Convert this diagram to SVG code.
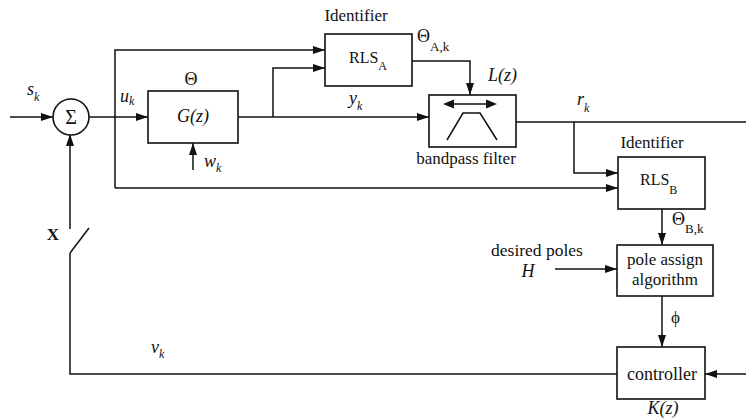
<svg xmlns="http://www.w3.org/2000/svg" width="746" height="419" viewBox="0 0 746 419" font-family="Liberation Serif">
<defs>
<marker id="arr" viewBox="0 0 12 8" refX="12" refY="4" markerWidth="12" markerHeight="8" markerUnits="userSpaceOnUse" orient="auto">
<path d="M0,0 L12,4 L0,8 Z" fill="#111"/>
</marker>
</defs>
<style>
.box{fill:#fff;stroke:#111;stroke-width:1.6}
.ln{fill:none;stroke:#111;stroke-width:1.5}
text{fill:#111;font-family:"Liberation Serif",serif}
.t{font-size:17px}
.v{font-size:18px;font-style:italic}
.c{text-anchor:middle}
.sub{font-size:12px}
</style>
<rect width="746" height="419" fill="#fff"/>
<g id="connectors">
<path class="ln" d="M10 117 H53" marker-end="url(#arr)"/>
<path class="ln" d="M89 117 H148" marker-end="url(#arr)"/>
<path class="ln" d="M115 188 V50 H325" marker-end="url(#arr)"/>
<path class="ln" d="M115 188 H618" marker-end="url(#arr)"/>
<path class="ln" d="M238 117 H429" marker-end="url(#arr)"/>
<path class="ln" d="M273 117 V68 H325" marker-end="url(#arr)"/>
<path class="ln" d="M412 61 H470 V95" marker-end="url(#arr)"/>
<path class="ln" d="M516 122 H746"/>
<path class="ln" d="M574 122 V173 H618" marker-end="url(#arr)"/>
<path class="ln" d="M662 209 V245" marker-end="url(#arr)"/>
<path class="ln" d="M555 269 H617" marker-end="url(#arr)"/>
<path class="ln" d="M662 296 V347" marker-end="url(#arr)"/>
<path class="ln" d="M746 374 H705" marker-end="url(#arr)"/>
<path class="ln" d="M617 374 H70 V253"/>
<path class="ln" d="M70 253 L89 228"/>
<path class="ln" d="M70 229 V134" marker-end="url(#arr)"/>
<path class="ln" d="M193 170 V143" marker-end="url(#arr)"/>
</g>
<g id="sum">
<circle cx="71" cy="117" r="18" fill="#fff" stroke="#111" stroke-width="1.6"/>
<text x="71" y="123.500" class="c" font-size="20">Σ</text>
<text x="27" y="95" class="v">s<tspan class="sub" dy="6">k</tspan></text>
</g>
<g id="plant">
<rect class="box" x="148" y="91" width="90" height="52"/>
<text x="193" y="122" class="v c" font-size="19">G(z)</text>
<text x="191" y="85" class="c" font-size="18">Θ</text>
<text x="120" y="102" class="v">u<tspan class="sub" dy="3">k</tspan></text>
<text x="204" y="167" class="v">w<tspan class="sub" dy="5">k</tspan></text>
</g>
<g id="rlsA">
<rect class="box" x="325" y="34" width="87" height="52"/>
<text x="356" y="21" class="t c">Identifier</text>
<text x="349" y="63" font-size="16">RLS<tspan class="sub" dy="7">A</tspan></text>
<text x="417" y="42" font-size="18">Θ<tspan font-size="13" dy="9">A,k</tspan></text>
<text x="349" y="104" class="v">y<tspan class="sub" dy="6">k</tspan></text>
</g>
<g id="filter">
<rect class="box" x="429" y="95" width="87" height="52"/>
<path class="ln" d="M452 104 H488"/>
<path d="M443 104 L454 99.500 L454 108.500 Z M497 104 L486 99.500 L486 108.500 Z" fill="#111"/>
<path class="ln" d="M447 140 L463 113 H480 L497 140"/>
<text x="466" y="164" class="t c">bandpass filter</text>
<text x="488" y="81" class="v">L(z)</text>
<text x="577" y="105" class="v">r<tspan class="sub" dy="7">k</tspan></text>
</g>
<g id="rlsB">
<rect class="box" x="618" y="157" width="87" height="52"/>
<text x="652" y="148" class="t c">Identifier</text>
<text x="640" y="185" font-size="16">RLS<tspan class="sub" dy="9">B</tspan></text>
<text x="672" y="225" font-size="18">Θ<tspan font-size="13" dy="8">B,k</tspan></text>
</g>
<g id="poleassign">
<rect class="box" x="617" y="245" width="96" height="51"/>
<text x="665" y="265" class="c" font-size="17">pole assign</text>
<text x="665" y="285" class="c" font-size="17">algorithm</text>
<text x="537" y="256" class="c" font-size="17.500">desired poles</text>
<text x="528" y="277" class="v c">H</text>
<text x="671" y="323" font-size="17">ϕ</text>
</g>
<g id="controller">
<rect class="box" x="617" y="347" width="88" height="52"/>
<text x="662" y="380" class="c" font-size="18">controller</text>
<text x="663" y="414" class="v c">K(z)</text>
</g>
<g id="switch">
<text x="53" y="240" class="c" font-size="17" font-weight="bold">X</text>
<text x="151" y="353" class="v">v<tspan class="sub" dy="5">k</tspan></text>
</g>
</svg>
